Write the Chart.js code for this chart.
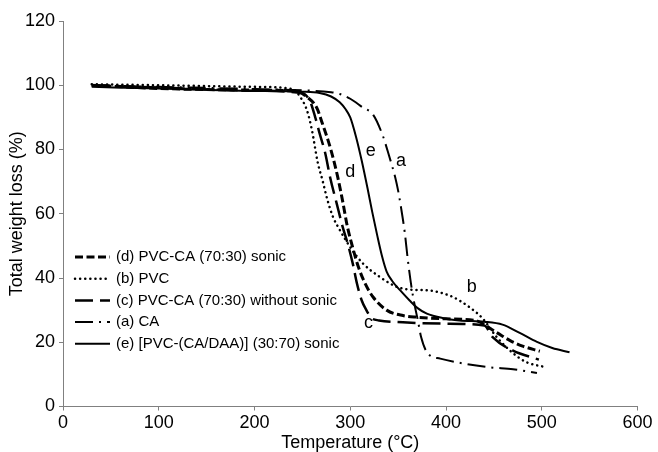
<!DOCTYPE html>
<html>
<head>
<meta charset="utf-8">
<script src="https://cdn.jsdelivr.net/npm/chart.js@4.4.1/dist/chart.umd.min.js"></script>
<style>
  body { margin: 0; background: #fff; }
  #wrap { width: 658px; height: 452px; }
</style>
</head>
<body>
<div id="wrap"><canvas id="tga"></canvas></div>
<script>
// temperatures (°C) and weight values (%)
const tempD = [30, 100, 200, 245, 255, 265, 271, 277, 282, 287, 292, 297, 303, 309, 316, 324, 338, 355, 370, 400, 430, 453, 467, 480, 498];
const wD    = [100, 99, 98.5, 98, 96.3, 93, 88, 82.7, 77.5, 71.3, 64, 56, 49, 43, 38, 34, 30, 28.3, 27.8, 27.3, 26.8, 23, 20.5, 18.8, 17.2];

const tempB = [30, 100, 200, 240, 247, 255, 260, 266, 271, 276, 282, 289, 300, 313, 331, 341, 349, 362, 383, 404, 414, 425, 438, 453, 470, 484, 503];
const wB    = [100.3, 100, 99.5, 98.8, 96.7, 92, 86, 76, 70.4, 64.5, 59, 55, 49.6, 44.6, 40.3, 38.4, 37.2, 36.4, 36.1, 34.5, 33, 30.8, 27.5, 21.6, 16.6, 13.8, 12.3];

const tempC = [30, 100, 200, 250, 258, 263, 268, 274, 279, 286, 292, 298, 303, 307, 312, 317, 322, 330, 355, 400, 440, 449, 470, 497];
const wC    = [100, 99.3, 98.3, 97.5, 95, 90.5, 85, 78.7, 71.3, 63, 56, 50, 44, 38.3, 33, 29.9, 27.6, 26.8, 26.2, 25.8, 25.2, 21.5, 17.4, 14.6];

const tempA = [30, 100, 200, 280, 289, 300, 313, 324, 334, 339, 343, 347, 350, 353, 357, 360, 364, 367, 371, 374, 381, 394, 418, 446, 470, 495];
const wA    = [100, 99.5, 98.8, 97.8, 97.3, 95.8, 93.1, 90.8, 84.3, 79.6, 75.6, 71.3, 67.2, 62, 54, 46, 37.1, 32, 26.2, 21.6, 16.5, 14.9, 13.4, 12.2, 11.6, 10.4];

const tempE = [30, 100, 185, 250, 268, 280, 289, 295, 300, 306, 312, 318, 323, 328, 333, 338, 344, 352, 362, 370, 380, 397, 414, 440, 459, 477, 495, 511, 529];
const wE    = [99.5, 99, 98.3, 98, 97.6, 96.5, 94.7, 92.6, 90, 84, 76.5, 68, 60.5, 53.5, 47, 42, 39, 36.2, 33, 30.7, 28.9, 27.5, 26.8, 26.4, 25.5, 22.9, 20.1, 18.2, 16.9];

const seriesNames = [
    '(d) PVC-CA (70:30) sonic',
    '(b) PVC',
    '(c) PVC-CA (70:30) without sonic',
    '(a) CA',
    '(e) [PVC-(CA/DAA)] (30:70) sonic'
];

const xTicks = [0, 100, 200, 300, 400, 500, 600];
const yTicks = [0, 20, 40, 60, 80, 100, 120];

// curve letters written next to the lines
const noteText = ['a', 'b', 'c', 'd', 'e'];
const noteT    = [353, 427, 319, 300, 321.5];
const noteW    = [76.5, 37.3, 26.1, 73, 79.5];

const FONT = '"Liberation Sans", Arial, Helvetica, sans-serif';

function pts(xs, ys) {
    return xs.map((x, i) => ({ x: x, y: ys[i] }));
}

const insideLegend = {
    id: 'insideLegend',
    afterDraw(chart) {
        const ctx = chart.ctx;
        ctx.save();
        ctx.font = '15px ' + FONT;
        ctx.textBaseline = 'middle';
        chart.data.datasets.forEach((ds, i) => {
            const y = 257 + i * 21.7;
            ctx.beginPath();
            ctx.setLineDash(ds.borderDash || []);
            ctx.lineWidth = ds.borderWidth;
            ctx.lineCap = ds.borderCapStyle || 'butt';
            ctx.strokeStyle = '#000';
            ctx.moveTo(75, y);
            ctx.lineTo(110, y);
            ctx.stroke();
            ctx.setLineDash([]);
            ctx.fillStyle = '#000';
            ctx.fillText(ds.label, 116, y);
        });
        ctx.restore();
    }
};

const curveNotes = {
    id: 'curveNotes',
    afterDraw(chart) {
        const ctx = chart.ctx;
        const xs = chart.scales.x, ys = chart.scales.y;
        ctx.save();
        ctx.font = '18px ' + FONT;
        ctx.fillStyle = '#000';
        ctx.textAlign = 'center';
        ctx.textBaseline = 'middle';
        noteText.forEach((t, i) => {
            ctx.fillText(t, xs.getPixelForValue(noteT[i]), ys.getPixelForValue(noteW[i]));
        });
        ctx.restore();
    }
};

const data = {
    datasets: [
        { label: seriesNames[0], data: pts(tempD, wD), borderWidth: 3, borderDash: [8, 3.5] },
        { label: seriesNames[1], data: pts(tempB, wB), borderWidth: 2.5, borderDash: [0.1, 5], borderCapStyle: 'round' },
        { label: seriesNames[2], data: pts(tempC, wC), borderWidth: 2.5, borderDash: [18, 7] },
        { label: seriesNames[3], data: pts(tempA, wA), borderWidth: 2, borderDash: [18, 6, 2, 6] },
        { label: seriesNames[4], data: pts(tempE, wE), borderWidth: 2 }
    ]
};
data.datasets.forEach(ds => {
    ds.borderColor = '#000';
    ds.backgroundColor = '#000';
    ds.pointRadius = 0;
    ds.fill = false;
    ds.cubicInterpolationMode = 'monotone';
});

const config = {
    type: 'line',
    data: data,
    options: {
        responsive: true,
        maintainAspectRatio: false,
        animation: false,
        layout: { padding: { left: 0, right: 20.5, top: 21, bottom: 0 } },
        plugins: {
            legend: { display: false },
            tooltip: { enabled: false }
        },
        scales: {
            x: {
                type: 'linear',
                min: 0,
                max: 600,
                afterBuildTicks: s => { s.ticks = xTicks.map(v => ({ value: v })); },
                afterFit: s => { s.height = 45.5; },
                grid: { drawOnChartArea: false, drawTicks: true, tickLength: 4, color: '#808080' },
                border: { color: '#808080', width: 1 },
                ticks: { color: '#000', padding: 2, maxRotation: 0, font: { family: FONT, size: 18 } },
                title: { display: true, text: 'Temperature (°C)', color: '#000', padding: { top: 0, bottom: -2 }, font: { family: FONT, size: 18 } }
            },
            y: {
                min: 0,
                max: 120,
                afterBuildTicks: s => { s.ticks = yTicks.map(v => ({ value: v })); },
                afterFit: s => { s.width = 63; },
                grid: { drawOnChartArea: false, drawTicks: true, tickLength: 4, color: '#808080' },
                border: { color: '#808080', width: 1 },
                ticks: { color: '#000', padding: 4, font: { family: FONT, size: 18 } },
                title: { display: true, text: 'Total weight loss (%)', color: '#000', padding: { top: 6, bottom: 0 }, font: { family: FONT, size: 18 } }
            }
        }
    },
    plugins: [insideLegend, curveNotes]
};

var ctx = document.getElementById('tga').getContext('2d');
var tgaChart = new Chart(ctx, config);
</script>
</body>
</html>
